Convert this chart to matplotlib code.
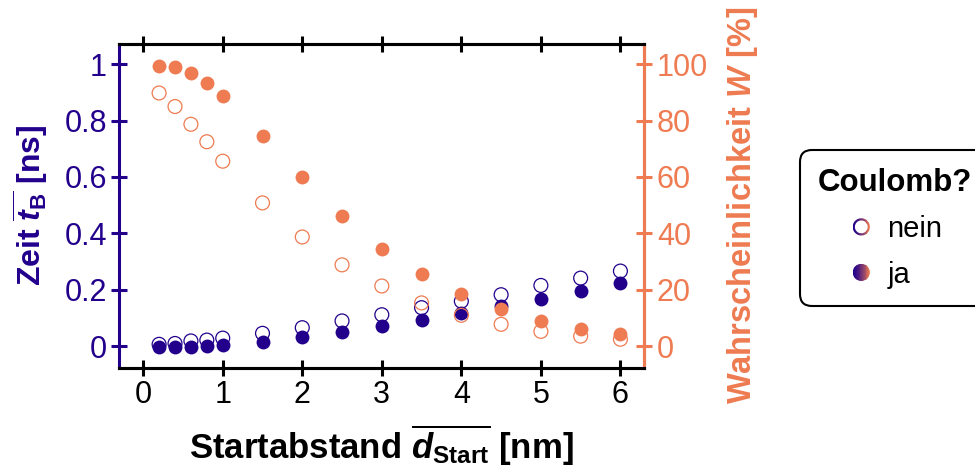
import numpy as np
import matplotlib
matplotlib.use("Agg")
import matplotlib.pyplot as plt
from matplotlib.legend_handler import HandlerBase
from matplotlib.patches import Circle, Wedge, Rectangle
from matplotlib.lines import Line2D
from matplotlib.colors import to_rgb

# Daten
d_start = [0.2, 0.4, 0.6, 0.8, 1.0, 1.5, 2.0, 2.5, 3.0, 3.5, 4.0, 4.5, 5.0, 5.5, 6.0]
# Zeit t_B [ns]
t_nein = [0.006, 0.009, 0.018, 0.021, 0.028, 0.045, 0.065, 0.089, 0.111, 0.136, 0.159, 0.182, 0.215, 0.241, 0.266]
t_ja = [-0.004, -0.002, -0.002, 0.0, 0.005, 0.015, 0.032, 0.050, 0.071, 0.091, 0.118, 0.142, 0.168, 0.197, 0.224]
# Wahrscheinlichkeit W [%]
w_nein = [89.8, 85.0, 78.7, 72.5, 65.6, 50.8, 38.7, 28.8, 21.3, 15.3, 10.9, 7.7, 5.2, 3.5, 2.4]
w_ja = [99.5, 98.9, 97.0, 93.5, 88.8, 74.7, 60.0, 46.3, 34.6, 25.6, 18.3, 13.2, 8.9, 6.1, 4.1]

x_ticks = [0, 1, 2, 3, 4, 5, 6]
t_ticks = [0, 0.2, 0.4, 0.6, 0.8, 1.0]
t_ticklabels = ["0", "0.2", "0.4", "0.6", "0.8", "1"]
w_ticks = [0, 20, 40, 60, 80, 100]

blau = "#22008c"
orange = "#ee7b51"

plt.rcParams["font.family"] = "Liberation Sans"
plt.rcParams["mathtext.fontset"] = "custom"
plt.rcParams["mathtext.rm"] = "Liberation Sans:bold"
plt.rcParams["mathtext.it"] = "Liberation Sans:bold:italic"
plt.rcParams["mathtext.bf"] = "Liberation Sans:bold"


class GradientHandler(HandlerBase):
    # Kreis mit Farbverlauf blau -> orange fuer die Legende
    def __init__(self, filled):
        super().__init__()
        self.filled = filled

    def create_artists(self, legend, orig_handle, xdescent, ydescent,
                       width, height, fontsize, trans):
        cx = width / 2 - xdescent
        cy = height / 2 - ydescent
        r = 6.2
        if self.filled:
            clip = Circle((cx, cy), r, transform=trans)
        else:
            clip = Wedge((cx, cy), r, 0, 360, width=1.6, transform=trans)
        n = 20
        c1 = np.array(to_rgb(blau))
        c2 = np.array(to_rgb(orange))
        arts = []
        for i in range(n):
            f = (i / (n - 1)) ** 1.4
            col = (1 - f) * c1 + f * c2
            rect = Rectangle((cx - r + 2 * r * i / n, cy - r), 2 * r / n + 0.05, 2 * r,
                             facecolor=col, linewidth=0, transform=trans)
            rect.set_clip_path(clip)
            arts.append(rect)
        return arts


fig = plt.figure(figsize=(9.75, 4.75), dpi=100)
ax = fig.add_axes([0.1224, 0.2259, 0.6608 - 0.1224, 0.9074 - 0.2259])
ax2 = ax.twinx()

ms = 100
ax.scatter(d_start, t_nein, s=ms, facecolors="none", edgecolors=blau, linewidths=0.9, zorder=3)
ax.scatter(d_start, t_ja, s=ms, color=blau, linewidths=0, zorder=4)
ax2.scatter(d_start, w_nein, s=ms, facecolors="none", edgecolors=orange, linewidths=0.9, zorder=3)
ax2.scatter(d_start, w_ja, s=ms, color=orange, linewidths=0, zorder=4)

ax.set_xlim(-0.3, 6.3)
ax.set_ylim(-0.077, 1.072)
ax2.set_ylim(-7.7, 107.2)

ax.set_xticks(x_ticks)
ax.set_yticks(t_ticks)
ax.set_yticklabels(t_ticklabels)
ax2.set_yticks(w_ticks)

for a in (ax, ax2):
    for s in a.spines.values():
        s.set_linewidth(2.2)
        s.set_color("black")
ax.spines["left"].set_color(blau)
ax2.spines["right"].set_color(orange)
ax2.spines["left"].set_visible(False)

ax.tick_params(axis="x", direction="inout", length=11, width=2.2, labelsize=22,
               pad=3, top=True, color="black")
ax.tick_params(axis="y", direction="inout", length=11, width=2.2, labelsize=22,
               pad=3.5, color=blau, labelcolor=blau)
ax2.tick_params(axis="y", direction="inout", length=11, width=2.2, labelsize=22,
                pad=3.5, color=orange, labelcolor=orange)

ax.set_xlabel(r"Startabstand $\overline{d_\mathrm{Start}}$ [nm]", fontsize=25,
              fontweight="bold", labelpad=9)
ax.set_ylabel(r"Zeit $\overline{t_\mathrm{B}}$ [ns]", fontsize=23, fontweight="bold",
              color=blau, labelpad=10)
ax2.set_ylabel(r"Wahrscheinlichkeit $W$ [%]", fontsize=23.5, fontweight="bold",
               color=orange, labelpad=12)

h_nein = Line2D([], [])
h_ja = Line2D([], [])
leg = fig.legend([h_nein, h_ja], ["nein", "ja"],
                 handler_map={h_nein: GradientHandler(False), h_ja: GradientHandler(True)},
                 loc="upper left", bbox_to_anchor=(0.8205, 0.684), borderaxespad=0,
                 title="Coulomb?",
                 fontsize=21, title_fontproperties={"weight": "bold", "size": 22.5},
                 frameon=True, fancybox=True, edgecolor="black", framealpha=1,
                 handlelength=1.0, handletextpad=0.4, labelspacing=0.6,
                 borderpad=0.6)
leg.get_frame().set_linewidth(1.5)
leg.get_frame().set_boxstyle("round", pad=0, rounding_size=0.4)

fig.savefig("out.png", dpi=100)
